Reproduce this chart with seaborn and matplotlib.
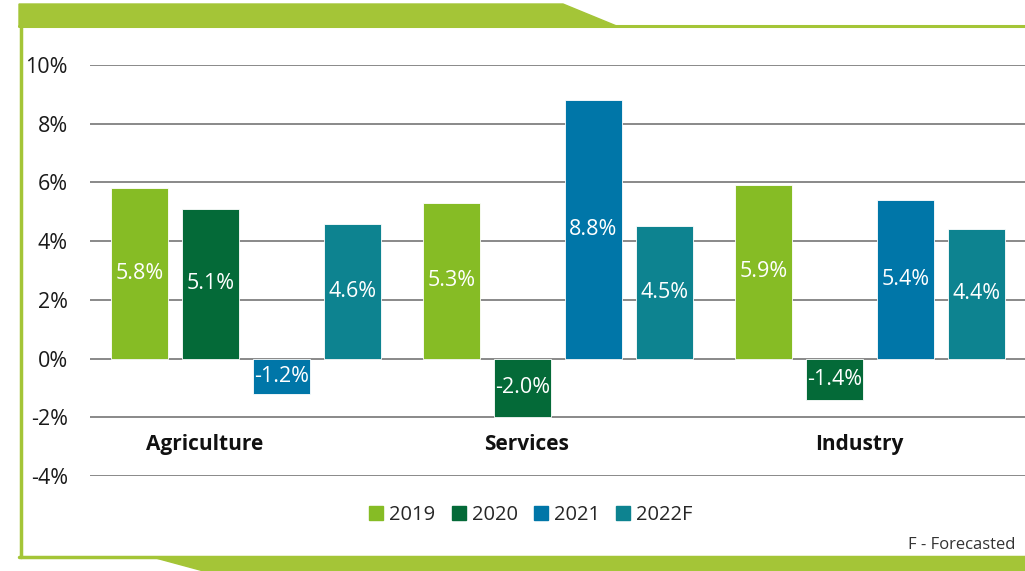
import matplotlib
matplotlib.use("Agg")
import matplotlib.pyplot as plt
from matplotlib.patches import Polygon
import pandas as pd
import seaborn as sns

# Data
sectors = ["Agriculture", "Services", "Industry"]
years = ["2019", "2020", "2021", "2022F"]
growth_2019 = [5.8, 5.3, 5.9]
growth_2020 = [5.1, -2.0, -1.4]
growth_2021 = [-1.2, 8.8, 5.4]
growth_2022f = [4.6, 4.5, 4.4]
y_ticks = [-4, -2, 0, 2, 4, 6, 8, 10]

colors = ["#86bc25", "#046a38", "#0076a8", "#0d8390"]
frame_green = "#a4c537"

sns.set_theme(style="white")
plt.rcParams["font.family"] = ["Open Sans", "DejaVu Sans"]

# long-form table for seaborn
rows = []
for year, vals in zip(years, [growth_2019, growth_2020, growth_2021, growth_2022f]):
    for sector, v in zip(sectors, vals):
        rows.append({"sector": sector, "year": year, "growth": v})
df = pd.DataFrame(rows)

fig = plt.figure(figsize=(10.25, 5.71), dpi=100)
ax = fig.add_axes([90 / 1025, 1 - 476 / 571, 936 / 1025, (476 - 65) / 571])

sns.barplot(
    data=df, x="sector", y="growth", hue="year", order=sectors, hue_order=years,
    palette=colors, saturation=1, width=0.91, gap=0.21, edgecolor="white",
    linewidth=0.6, legend=False, ax=ax, zorder=3,
)

ax.set_xlim(-0.5, 2.5)
ax.set_ylim(-4, 10)
ax.set_yticks(y_ticks)
ax.set_yticklabels([f"{t}%" for t in y_ticks], fontsize=15.5, color="#1a1a1a")
ax.tick_params(axis="y", length=0, pad=16)
ax.set_xticks([])
ax.set_xlabel("")
ax.set_ylabel("")
for s in ax.spines.values():
    s.set_visible(False)
ax.grid(False)
for t in y_ticks:
    ax.axhline(t, color="#6a6a6a", linewidth=1.1, zorder=1)

# value labels in the middle of each bar
for container, year in zip(ax.containers, years):
    vals = df[df["year"] == year]["growth"].tolist()
    ax.bar_label(container, labels=[f"{v:.1f}%" for v in vals], label_type="center",
                 color="white", fontsize=15.5)

# sector names sit inside the plot, slightly left of the group centres
nudge = [-0.133, -0.10, -0.034]
for i, name in enumerate(sectors):
    ax.text(i + nudge[i], -2.92, name, ha="center", va="center",
            fontsize=15, fontweight="bold", color="#111111")

# legend
handles = [plt.Rectangle((0, 0), 1, 1, color=c) for c in colors]
fig.legend(handles, years, loc="center", bbox_to_anchor=(531 / 1025, 1 - 515 / 571),
           ncol=4, frameon=False, fontsize=14.5, handlelength=0.7, handleheight=0.7,
           handletextpad=0.3, columnspacing=0.8)

fig.text(908 / 1025, 1 - 545 / 571, "F - Forecasted", fontsize=12, color="#333333",
         ha="left", va="center")

# green frame
def fx(px):
    return px / 1025

def fy(py):
    return 1 - py / 571

top_band = Polygon([(fx(19), fy(4)), (fx(563), fy(4)), (fx(619), fy(27)), (fx(19), fy(27))],
                   closed=True, transform=fig.transFigure, color=frame_green, zorder=5)
bottom_band = Polygon([(fx(157), fy(558)), (fx(1025), fy(558)), (fx(1025), fy(571)),
                       (fx(205), fy(571))],
                      closed=True, transform=fig.transFigure, color=frame_green, zorder=5)
fig.patches.extend([top_band, bottom_band])
fig.add_artist(plt.Line2D([fx(19), fx(1025)], [fy(26), fy(26)], color=frame_green, lw=2.2))
fig.add_artist(plt.Line2D([fx(20.5), fx(20.5)], [fy(26), fy(557)], color=frame_green, lw=2.5))
fig.add_artist(plt.Line2D([fx(19), fx(1025)], [fy(556.5), fy(556.5)], color=frame_green, lw=2.5))

fig.savefig("out.png", dpi=100)
